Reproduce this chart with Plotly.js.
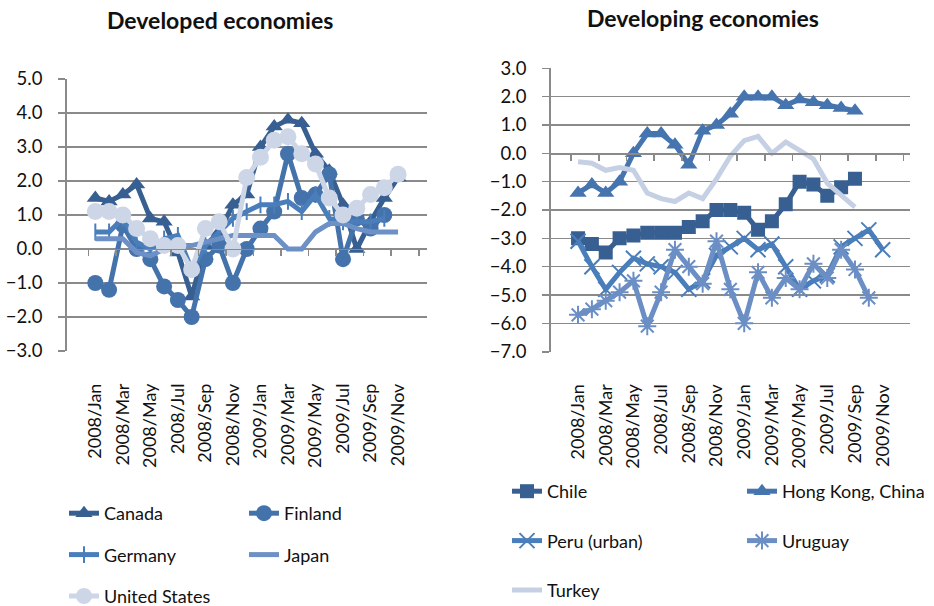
<!DOCTYPE html>
<html><head><meta charset="utf-8">
<script src="https://cdn.plot.ly/plotly-3.0.1.min.js"></script>
<style>html,body{margin:0;padding:0;background:#fff}</style>
</head><body>
<div id="chart" style="width:934px;height:606px"></div>
<script>
const categories = ['2008/Jan','2008/Feb','2008/Mar','2008/Apr','2008/May','2008/Jun','2008/Jul','2008/Aug','2008/Sep','2008/Oct','2008/Nov','2008/Dec',
  '2009/Jan','2009/Feb','2009/Mar','2009/Apr','2009/May','2009/Jun','2009/Jul','2009/Aug','2009/Sep','2009/Oct','2009/Nov'];
const tickLabels = ['2008/Jan','2008/Mar','2008/May','2008/Jul','2008/Sep','2008/Nov','2009/Jan','2009/Mar','2009/May','2009/Jul','2009/Sep','2009/Nov'];

// Developed economies
const canada  = [1.5, 1.4, 1.6, 1.9, 0.9, 0.8, -0.1, -1.4, 0.1, 0.5, 1.3, 1.6, 3.0, 3.6, 3.8, 3.7, 2.8, 2.3, 1.3, 0.0, 0.8, 1.5, 2.1];
const finland = [-1.0, -1.2, 0.7, 0.0, -0.3, -1.1, -1.5, -2.0, -0.3, 0.1, -1.0, 0.0, 0.6, 1.1, 2.8, 1.5, 1.6, 2.2, -0.3, 0.9, 0.6, 1.0, null];
const germany = [0.5, 0.5, 0.9, 0.2, 0.0, 0.3, 0.4, -0.6, 0.1, 0.5, 0.9, 1.1, 1.3, 1.3, 1.4, 1.1, 1.6, 0.9, 0.8, 0.8, 0.8, 0.9, null];
const japan   = [0.3, 0.3, 0.3, -0.1, -0.2, 0.0, 0.1, 0.1, 0.2, 0.3, 0.4, 0.4, 0.4, 0.4, 0.0, 0.0, 0.5, 0.75, 0.75, 0.6, 0.5, 0.5, 0.5];
const usa     = [1.1, 1.1, 1.0, 0.6, 0.3, 0.1, 0.1, -0.6, 0.6, 0.8, 0.0, 2.1, 2.7, 3.2, 3.3, 2.8, 2.5, 1.5, 1.0, 1.2, 1.6, 1.8, 2.2];

// Developing economies
const chile    = [-3.0, -3.2, -3.5, -3.0, -2.9, -2.8, -2.8, -2.8, -2.6, -2.4, -2.0, -2.0, -2.1, -2.7, -2.4, -1.8, -1.0, -1.1, -1.5, -1.2, -0.9, null, null];
const hongKong = [-1.4, -1.1, -1.4, -1.0, 0.0, 0.7, 0.7, 0.3, -0.4, 0.8, 1.0, 1.4, 2.0, 2.0, 2.0, 1.7, 1.9, 1.8, 1.7, 1.6, 1.5, null, null];
const peru     = [-3.1, -4.0, -4.8, -4.2, -3.7, -3.9, -4.0, -4.2, -4.8, -4.5, -3.6, -3.3, -3.0, -3.4, -3.2, -4.0, -4.8, -4.5, -4.3, -3.3, -3.0, -2.7, -3.4];
const uruguay  = [-5.7, -5.5, -5.2, -4.9, -4.5, -6.1, -4.9, -3.4, -4.0, -4.6, -3.1, -4.8, -6.0, -4.2, -5.1, -4.4, -4.8, -3.9, -4.4, -3.4, -4.1, -5.1, null];
const turkey   = [-0.3, -0.35, -0.6, -0.5, -0.6, -1.4, -1.6, -1.7, -1.4, -1.6, -0.9, -0.1, 0.45, 0.6, 0.0, 0.4, 0.1, -0.2, -1.05, -1.5, -1.9, null, null];

const FONT = 'Lato, "Open Sans", sans-serif';
const GRID = '#8a8a8a';

function series(name, y, xa, ya, color, lw, marker, legend) {
  const t = {type:'scatter', name:name, x:categories, y:y, xaxis:xa, yaxis:ya,
    mode: marker ? 'lines+markers' : 'lines',
    line:{color:color, width:lw}, legend:legend, legendgroup:name, hoverinfo:'skip', connectgaps:false};
  if (marker) t.marker = marker;
  return t;
}

const cCanada='#375f91', cFinland='#4472ab', cGermany='#4a7ebb', cJapan='#6d91c6', cUS='#cdd6e7';
const cChile='#385f91', cHK='#4574ae', cPeru='#4a7ebb', cUru='#6b8fc5', cTurkey='#c6d0e4';

const traces = [
  series('Canada', canada, 'x', 'y', cCanada, 5, {symbol:'triangle-up', size:15, color:cCanada}, 'legend'),
  series('Finland', finland, 'x', 'y', cFinland, 5, {symbol:'circle', size:16, color:cFinland}, 'legend2'),
  series('Germany', germany, 'x', 'y', cGermany, 5, {symbol:'line-ns-open', size:12, line:{color:cGermany, width:2}}, 'legend'),
  series('Japan', japan, 'x', 'y', cJapan, 5, null, 'legend2'),
  series('United States', usa, 'x', 'y', cUS, 5, {symbol:'circle', size:17, color:cUS}, 'legend'),
  series('Chile', chile, 'x2', 'y2', cChile, 5, {symbol:'square', size:14, color:cChile}, 'legend3'),
  series('Hong Kong, China', hongKong, 'x2', 'y2', cHK, 5, {symbol:'triangle-up', size:15, color:cHK}, 'legend4'),
  series('Peru (urban)', peru, 'x2', 'y2', cPeru, 5, {symbol:'x-thin-open', size:15, line:{color:cPeru, width:2}}, 'legend3'),
  series('Uruguay', uruguay, 'x2', 'y2', cUru, 5, {symbol:'asterisk-open', size:15, line:{color:cUru, width:2}}, 'legend4'),
  series('Turkey', turkey, 'x2', 'y2', cTurkey, 5, null, 'legend3'),
  // invisible helpers so the zero-line category axes are drawn
  {type:'scatter', x:categories, y:categories.map(()=>null), xaxis:'x3', yaxis:'y', showlegend:false, hoverinfo:'skip', mode:'lines'},
  {type:'scatter', x:categories, y:categories.map(()=>null), xaxis:'x4', yaxis:'y2', showlegend:false, hoverinfo:'skip', mode:'lines'}
];

const W = 934, H = 606;
const px = v => v / W, py = v => 1 - v / H;

const xBase = {type:'category', categoryorder:'array', categoryarray:categories,
  tickmode:'array', tickvals:tickLabels, ticktext:tickLabels, tickangle:-90,
  showgrid:false, showline:false, zeroline:false, ticks:'', ticklabelstandoff:28,
  tickfont:{family:FONT, size:18, color:'#111'}, fixedrange:true, automargin:false};
const yBase = {showgrid:true, gridcolor:GRID, gridwidth:1.6, zeroline:false,
  showline:true, linecolor:GRID, linewidth:1.6, ticks:'outside', ticklen:7, tickcolor:GRID, tickwidth:1.6,
  tickformat:'.1f', dtick:1, tickfont:{family:FONT, size:18.5, color:'#111'}, ticklabelstandoff:12, fixedrange:true, automargin:false};
const zeroAxis = {type:'category', categoryorder:'array', categoryarray:categories, anchor:'free',
  showline:true, linecolor:GRID, linewidth:1.6, ticks:'outside', ticklen:6, tickcolor:GRID, tickwidth:1.6,
  tickson:'boundaries', showticklabels:false, showgrid:false, zeroline:false, fixedrange:true, automargin:false};

const legBase = {font:{family:FONT, size:18, color:'#111'}, bgcolor:'rgba(0,0,0,0)', orientation:'v',
  xref:'container', yref:'container',
  xanchor:'left', yanchor:'top', tracegroupgap:15, itemclick:false, itemdoubleclick:false};

const layout = {
  width:W, height:H, margin:{l:0, r:0, t:0, b:0, autoexpand:false}, paper_bgcolor:'#fff', plot_bgcolor:'rgba(0,0,0,0)',
  showlegend:true,
  xaxis: Object.assign({}, xBase, {domain:[px(66.7), px(426.7)], anchor:'y'}),
  yaxis: Object.assign({}, yBase, {domain:[py(351), py(79)], range:[-3, 5], anchor:'x'}),
  xaxis2: Object.assign({}, xBase, {domain:[px(550.7), px(910)], anchor:'y2'}),
  yaxis2: Object.assign({}, yBase, {domain:[py(351.7), py(68.3)], range:[-7, 3], anchor:'x2'}),
  xaxis3: Object.assign({}, zeroAxis, {overlaying:'x', matches:'x', position:py(248.7)}),
  xaxis4: Object.assign({}, zeroAxis, {overlaying:'x2', matches:'x2', position:py(153.3)}),
  legend:  Object.assign({}, legBase, {x:px(64), y:py(495)}),
  legend2: Object.assign({}, legBase, {x:px(244), y:py(495)}),
  legend3: Object.assign({}, legBase, {x:px(507), y:py(473), tracegroupgap:23}),
  legend4: Object.assign({}, legBase, {x:px(742), y:py(473), tracegroupgap:23}),
  annotations:[
    {text:'<b>Developed economies</b>', x:px(220), y:py(20), xref:'paper', yref:'paper', showarrow:false,
     xanchor:'center', yanchor:'middle', font:{family:FONT, size:23, color:'#111'}},
    {text:'<b>Developing economies</b>', x:px(703), y:py(18), xref:'paper', yref:'paper', showarrow:false,
     xanchor:'center', yanchor:'middle', font:{family:FONT, size:23, color:'#111'}}
  ]
};

Plotly.newPlot('chart', traces, layout, {staticPlot:true, displayModeBar:false});
</script>
</body></html>
